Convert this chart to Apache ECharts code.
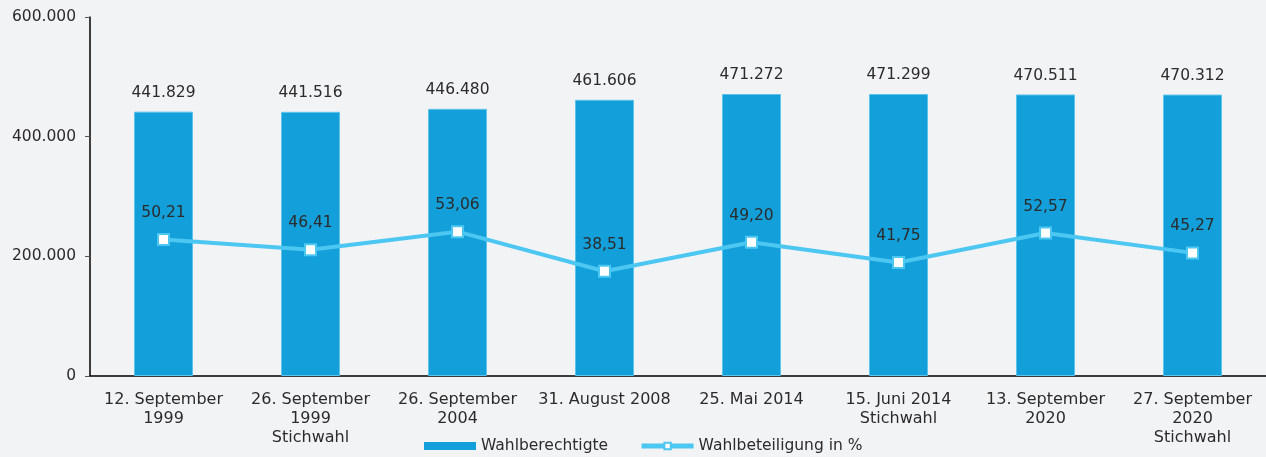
<!DOCTYPE html>
<html>
<head>
<meta charset="utf-8">
<script src="https://cdn.jsdelivr.net/npm/echarts@6/dist/echarts.min.js"></script>
<style>
html, body { margin: 0; padding: 0; background: #f2f3f5; }
#chart { width: 1266px; height: 457px; }
</style>
</head>
<body>
<div id="chart"></div>
<script>
'use strict';

var categories = ['12. September\n1999', '26. September\n1999\nStichwahl', '26. September\n2004', '31. August 2008',
    '25. Mai 2014', '15. Juni 2014\nStichwahl', '13. September\n2020', '27. September\n2020\nStichwahl'];
var berechtigte = [441829, 441516, 446480, 461606, 471272, 471299, 470511, 470312];
var beteiligung = [50.21, 46.41, 53.06, 38.51, 49.20, 41.75, 52.57, 45.27];
var yTicks = [0, 200000, 400000, 600000];

// 441829 -> 441.829
function dots(v) {
    return String(v).replace(/\B(?=(\d{3})+(?!\d))/g, '.');
}

var font = 'DejaVu Sans, Verdana, sans-serif';
var txt = '#2b2b2b';
var fs = 15.5;

var myChart = echarts.init(document.getElementById('chart'));
var option = {
    backgroundColor: '#f2f3f5',
    textStyle: { fontFamily: font },
    animation: false,
    grid: { left: 90, right: 0, top: 17, bottom: 81 },
    legend: {
        top: 433,
        left: 419,
        itemWidth: 52,
        itemHeight: 8,
        itemGap: 31,
        textStyle: { fontFamily: font, fontSize: fs, color: txt },
        data: [
            { name: 'Wahlberechtigte', icon: 'rect', itemStyle: { borderWidth: 0 } },
            { name: 'Wahlbeteiligung in %', lineStyle: { width: 5 } }
        ]
    },
    xAxis: {
        type: 'category',
        data: categories,
        axisLine: { lineStyle: { color: '#000', width: 1.5 } },
        axisTick: { show: false },
        axisLabel: {
            interval: 0, margin: 14, lineHeight: 19,
            fontFamily: font, fontSize: 16, color: txt
        }
    },
    yAxis: [{
        type: 'value',
        min: yTicks[0],
        max: yTicks[yTicks.length - 1],
        interval: yTicks[1] - yTicks[0],
        splitLine: { show: false },
        axisLine: { show: true, lineStyle: { color: '#000', width: 1.5 } },
        axisTick: { show: true, length: 5, lineStyle: { color: '#555' } },
        axisLabel: {
            margin: 14, fontFamily: font, fontSize: fs, color: txt,
            formatter: function (v) { return dots(v); }
        }
    }, {
        type: 'value',
        min: 0,
        max: 132,
        show: false
    }],
    series: [{
        name: 'Wahlberechtigte',
        type: 'bar',
        barWidth: 59,
        data: berechtigte,
        itemStyle: { color: '#139fd9', borderColor: '#5cc3ec', borderWidth: 1 },
        label: {
            show: true, position: 'top', distance: 11,
            fontFamily: font, fontSize: fs, color: txt,
            formatter: function (p) { return dots(p.value); }
        }
    }, {
        name: 'Wahlbeteiligung in %',
        type: 'line',
        yAxisIndex: 1,
        data: beteiligung,
        symbol: 'rect',
        symbolSize: 11,
        lineStyle: { color: '#4cc7f2', width: 4 },
        itemStyle: { color: '#ffffff', borderColor: '#4cc7f2', borderWidth: 2 },
        label: {
            show: true, position: 'top', distance: 12,
            fontFamily: font, fontSize: fs, color: txt,
            formatter: function (p) { return p.value.toFixed(2).replace('.', ','); }
        }
    }]
};
myChart.setOption(option);
</script>
</body>
</html>
